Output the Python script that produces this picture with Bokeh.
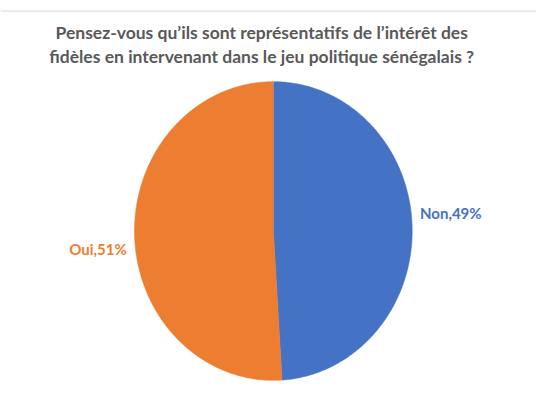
import numpy as np
from bokeh.plotting import figure
from bokeh.models import Range1d, Span, ColumnDataSource
from bokeh.core.properties import value
from bokeh.embed import file_html
from bokeh.resources import INLINE

# ---- data ----
categories = ["Non", "Oui"]
percents = [49, 51]
colors = ["#4472C4", "#ED7D31"]
title_lines = [
    "Pensez-vous qu\u2019ils sont repr\u00e9sentatifs de l\u2019int\u00e9r\u00eat des",
    "fid\u00e8les en intervenant dans le jeu politique s\u00e9n\u00e9galais ?",
]

W, H = 536, 389
RW, RH = 552, 405  # layout units
p = figure(width=W, height=H, output_backend="svg", toolbar_location=None,
           x_range=Range1d(0, RW), y_range=Range1d(0, RH),
           min_border=0, min_border_left=0, min_border_right=0,
           min_border_top=0, min_border_bottom=0)
p.axis.visible = False
p.grid.visible = False
p.outline_line_color = None
p.background_fill_color = "white"
p.border_fill_color = "white"

def Y(v):
    return RH - v

# top thin rule
p.add_layout(Span(location=Y(11), dimension="width", line_color="#D9D9D9", line_width=1))

# pie (clockwise from top)
cx, cy, rx, ry = 281, Y(240), 143, 155.5
fracs = np.array(percents, dtype=float) / sum(percents)
ends = np.cumsum(fracs) * 2 * np.pi
starts = ends - fracs * 2 * np.pi
xs, ys = [], []
for a0, a1 in zip(starts, ends):
    t = np.linspace(a0, a1, 240)
    xs.append(np.concatenate([[cx], cx + rx * np.sin(t), [cx]]).tolist())
    ys.append(np.concatenate([[cy], cy + ry * np.cos(t), [cy]]).tolist())
p.patches(xs=xs, ys=ys, fill_color=colors, line_color=colors, line_width=0.5)

# data labels
mids = (starts + ends) / 2
lx, ly, align, texts = [], [], [], []
for m, c, v in zip(mids, categories, percents):
    s = np.sin(m)
    lx.append(cx + (rx + 8) * (1 if s > 0 else -1))
    ly.append(cy + (18.5 if np.cos(m) > 0 else -18.5))
    align.append("left" if s > 0 else "right")
    texts.append(f"{c},{v}%")
src = ColumnDataSource(dict(x=lx, y=ly, t=texts, c=colors, a=align))
p.text(x="x", y="y", text="t", text_color="c", text_align="a", source=src,
       text_baseline="middle", text_font=value("Lato"), text_font_style="bold",
       text_font_size="15px")

# title
p.text(x=[269, 269], y=[Y(33), Y(58)], text=title_lines,
       text_align="center", text_baseline="alphabetic", text_color="#595959",
       text_font=value("Lato"), text_font_style="bold", text_font_size="17.5px")

open("out.html", "w").write(file_html(p, INLINE))
